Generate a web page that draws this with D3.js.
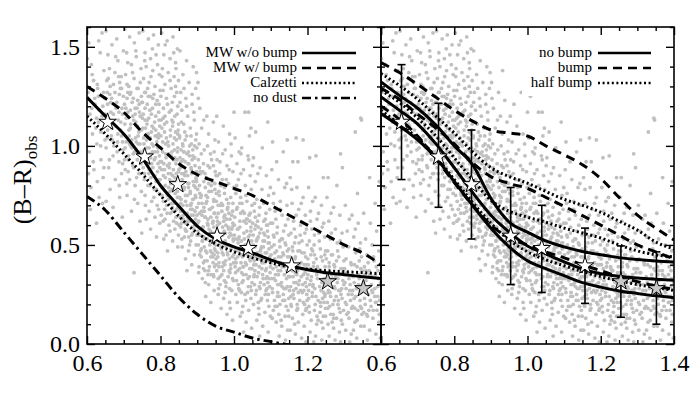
<!DOCTYPE html>
<html><head><meta charset="utf-8">
<script src="https://cdn.jsdelivr.net/npm/d3@7"></script>
<style>body{margin:0;background:#fff}svg{display:block}
svg text{font-family:"Liberation Serif","Times New Roman","DejaVu Serif",serif !important;}</style>
</head><body><svg id="c" width="700" height="400"></svg>
<script>
// ---------- data ----------
const cloud = [
[0.605,1.52],[0.612,1.41],[0.618,1.33],[0.603,1.27],[0.622,1.21],[0.608,1.16],[0.631,1.12],[0.615,1.06],[0.627,1.01],[0.606,0.97],[0.638,0.93],[0.619,0.88],[0.644,0.84],[0.611,0.79],[0.633,0.74],[0.609,0.68],[0.626,0.61],[0.641,1.57],[0.636,1.47],[0.646,1.38],[0.629,1.29],[0.648,1.24],[0.613,1.19],[0.641,1.15],[0.624,1.09],[0.649,1.03],[0.601,1.44],[0.637,1.00],[0.617,0.92],[0.646,0.89],[0.628,0.82],[0.604,0.86],[0.642,0.71],[0.614,1.36],[0.632,1.53],
[0.652,1.58],[0.668,1.51],[0.657,1.46],[0.684,1.43],[0.661,1.39],[0.693,1.35],[0.672,1.31],[0.655,1.27],[0.688,1.26],[0.664,1.22],[0.679,1.19],[0.697,1.16],[0.658,1.14],[0.674,1.11],[0.691,1.08],[0.666,1.05],[0.683,1.02],[0.652,0.99],[0.698,0.98],[0.671,0.95],[0.687,0.92],[0.659,0.89],[0.694,0.86],[0.677,0.83],[0.663,0.78],[0.689,0.74],[0.671,0.69],[0.696,0.64],[0.681,1.54],[0.699,1.48],[0.654,1.33],[0.676,1.37],[0.691,1.29],[0.667,1.24],[0.685,1.13],[0.656,1.08],[0.694,1.05],[0.673,1.00],[0.661,0.93],[0.688,0.80],[0.678,1.45],[0.665,1.17],[0.682,0.97],[0.697,0.91],[0.652,0.72],
[0.703,1.59],[0.716,1.55],[0.729,1.52],[0.742,1.57],[0.708,1.47],[0.734,1.45],[0.721,1.41],[0.747,1.39],[0.705,1.36],[0.728,1.34],[0.714,1.30],[0.739,1.29],[0.748,1.25],[0.709,1.24],[0.723,1.22],[0.736,1.19],[0.711,1.17],[0.745,1.15],[0.727,1.13],[0.703,1.11],[0.718,1.09],[0.741,1.07],[0.732,1.04],[0.707,1.02],[0.722,0.99],[0.746,0.97],[0.713,0.95],[0.737,0.93],[0.725,0.90],[0.704,0.88],[0.744,0.86],[0.716,0.83],[0.731,0.80],[0.748,0.77],[0.709,0.75],[0.738,0.71],[0.721,0.67],[0.744,0.62],[0.728,0.36],[0.733,1.48],[0.719,1.27],[0.742,1.21],[0.706,1.19],[0.731,1.16],[0.715,1.05],[0.739,1.01],[0.726,0.96],[0.702,0.93],[0.747,0.91],[0.712,0.87],[0.735,0.84],[0.724,1.37],[0.745,1.32],[0.711,1.42],[0.737,1.10],[0.719,1.00],[0.708,0.81],[0.729,0.73],[0.749,0.56],[0.717,1.26],
[0.752,1.58],[0.767,1.54],[0.781,1.56],[0.794,1.51],[0.758,1.47],[0.773,1.44],[0.788,1.46],[0.761,1.40],[0.779,1.38],[0.797,1.36],[0.754,1.34],[0.769,1.32],[0.785,1.30],[0.799,1.28],[0.757,1.27],[0.772,1.25],[0.791,1.23],[0.764,1.21],[0.778,1.19],[0.795,1.17],[0.753,1.16],[0.768,1.14],[0.784,1.12],[0.798,1.10],[0.759,1.09],[0.775,1.07],[0.789,1.05],[0.762,1.03],[0.777,1.01],[0.793,0.99],[0.755,0.98],[0.771,0.96],[0.786,0.94],[0.799,0.92],[0.763,0.91],[0.779,0.89],[0.792,0.87],[0.756,0.86],[0.774,0.84],[0.788,0.82],[0.766,0.80],[0.783,0.78],[0.797,0.76],[0.758,0.75],[0.776,0.72],[0.791,0.70],[0.769,0.67],[0.785,0.64],[0.798,0.61],[0.773,0.58],[0.761,0.63],[0.789,0.54],[0.765,1.29],[0.782,1.26],[0.751,1.22],[0.796,1.21],[0.771,1.18],[0.758,1.13],[0.787,1.15],[0.766,1.06],[0.794,1.04],[0.781,1.00],[0.754,1.04],[0.769,0.99],[0.785,0.97],[0.761,0.94],[0.797,0.95],[0.776,0.91],[0.753,0.89],[0.791,0.83],[0.768,0.86],[0.782,0.74],[0.759,0.70],[0.795,0.68],[0.774,1.35],[0.757,1.43],[0.792,1.41],[0.778,1.49],[0.763,1.11],[0.787,1.08],
[0.803,1.57],[0.818,1.53],[0.834,1.55],[0.846,1.49],[0.809,1.46],[0.826,1.44],[0.841,1.42],[0.805,1.39],[0.821,1.37],[0.837,1.35],[0.849,1.33],[0.812,1.31],[0.829,1.29],[0.844,1.27],[0.801,1.25],[0.816,1.24],[0.832,1.22],[0.847,1.20],[0.808,1.19],[0.824,1.17],[0.839,1.15],[0.802,1.13],[0.817,1.12],[0.833,1.10],[0.848,1.08],[0.811,1.07],[0.827,1.05],[0.843,1.03],[0.806,1.02],[0.822,1.00],[0.838,0.98],[0.814,0.96],[0.829,0.95],[0.845,0.93],[0.803,0.92],[0.819,0.90],[0.835,0.88],[0.849,0.87],[0.808,0.85],[0.825,0.83],[0.841,0.82],[0.813,0.80],[0.831,0.78],[0.846,0.77],[0.804,0.75],[0.821,0.73],[0.836,0.71],[0.848,0.69],[0.811,0.68],[0.827,0.66],[0.842,0.64],[0.807,0.62],[0.823,0.60],[0.839,0.58],[0.815,0.55],[0.833,0.52],[0.847,0.49],[0.819,0.47],[0.836,1.47],[0.813,1.51],[0.842,1.39],[0.826,1.33],[0.807,1.28],[0.838,1.25],[0.819,1.21],[0.845,1.16],[0.831,1.13],[0.804,1.09],[0.849,1.11],[0.816,1.04],[0.834,1.01],[0.801,0.99],[0.846,0.97],[0.824,0.91],[0.811,0.88],[0.843,0.86],[0.828,0.81],[0.806,0.79],[0.848,0.74],[0.817,0.70],[0.834,0.67],[0.802,0.65],[0.844,0.61],[0.826,0.57],[0.809,0.53],[0.839,0.94],[0.821,0.86],[0.847,1.06],[0.812,1.15],[0.829,1.18],[0.804,1.35],[0.841,1.30],[0.818,0.76],[0.833,0.85],[0.849,0.55],
[0.853,1.48],[0.871,1.43],[0.889,1.40],[0.861,1.36],[0.878,1.32],[0.896,1.29],[0.855,1.27],[0.869,1.24],[0.886,1.21],[0.858,1.18],[0.874,1.15],[0.892,1.13],[0.863,1.11],[0.881,1.09],[0.898,1.06],[0.852,1.05],[0.867,1.03],[0.884,1.01],[0.899,0.99],[0.856,0.98],[0.872,0.96],[0.888,0.95],[0.861,0.93],[0.877,0.91],[0.894,0.90],[0.854,0.89],[0.869,0.87],[0.885,0.86],[0.897,0.84],[0.859,0.83],[0.875,0.81],[0.891,0.80],[0.864,0.78],[0.881,0.77],[0.895,0.75],[0.852,0.74],[0.868,0.72],[0.884,0.71],[0.899,0.69],[0.857,0.68],[0.873,0.66],[0.889,0.65],[0.862,0.63],[0.878,0.62],[0.894,0.60],[0.855,0.59],[0.871,0.57],[0.887,0.56],[0.865,0.54],[0.882,0.52],[0.897,0.50],[0.859,0.49],[0.876,0.47],[0.892,0.45],[0.868,0.43],[0.885,0.40],[0.872,0.37],[0.863,0.97],[0.879,1.00],[0.893,0.94],[0.856,0.92],[0.884,0.88],[0.866,0.85],[0.898,0.82],[0.851,0.80],[0.876,0.79],[0.889,0.73],[0.861,0.70],[0.894,0.67],[0.874,0.64],[0.853,0.64],[0.886,0.59],[0.867,0.58],[0.899,0.55],[0.858,0.53],[0.879,0.50],[0.891,1.17],[0.871,1.20],[0.857,1.12],[0.883,1.05],[0.866,1.07],[0.896,1.03],[0.861,1.00],[0.888,0.98],[0.873,0.75],[0.855,0.71],[0.882,0.68],[0.869,0.61],[0.895,0.63],[0.877,0.54],[0.864,1.29],[0.886,1.26],[0.853,1.22],[0.898,1.37],[0.879,0.95],
[0.902,1.32],[0.921,1.27],[0.938,1.23],[0.907,1.19],[0.926,1.15],[0.944,1.12],[0.912,1.09],[0.931,1.06],[0.948,1.03],[0.905,1.01],[0.919,0.98],[0.936,0.96],[0.903,0.93],[0.917,0.91],[0.934,0.89],[0.949,0.87],[0.909,0.86],[0.925,0.84],[0.941,0.82],[0.906,0.80],[0.922,0.79],[0.939,0.77],[0.911,0.75],[0.928,0.74],[0.945,0.72],[0.904,0.71],[0.918,0.69],[0.935,0.68],[0.947,0.66],[0.913,0.65],[0.929,0.63],[0.943,0.62],[0.901,0.61],[0.916,0.59],[0.932,0.58],[0.949,0.56],[0.908,0.55],[0.924,0.53],[0.940,0.52],[0.903,0.50],[0.919,0.49],[0.936,0.47],[0.946,0.45],[0.911,0.44],[0.927,0.42],[0.943,0.41],[0.905,0.39],[0.921,0.37],[0.938,0.35],[0.914,0.33],[0.931,0.30],[0.946,0.27],[0.923,0.24],[0.937,0.21],[0.915,0.87],[0.931,0.81],[0.948,0.78],[0.907,0.76],[0.924,0.71],[0.941,0.69],[0.912,0.67],[0.929,0.60],[0.945,0.59],[0.902,0.57],[0.918,0.54],[0.934,0.55],[0.949,0.50],[0.909,0.47],[0.926,0.46],[0.942,0.44],[0.917,0.41],[0.933,0.39],[0.904,0.36],[0.945,0.34],[0.922,0.31],[0.939,0.93],[0.911,0.96],[0.928,1.00],[0.944,0.90],[0.906,0.89],[0.921,0.64],[0.937,0.64],[0.914,0.52],[0.947,0.48],[0.929,0.35],[0.951,0.40],[0.903,1.24],[0.932,1.38],[0.918,1.13],[0.946,0.97],
[0.953,1.15],[0.971,1.10],[0.988,1.06],[0.958,1.02],[0.976,0.98],[0.993,0.95],[0.962,0.92],[0.981,0.90],[0.997,0.87],[0.955,0.85],[0.968,0.83],[0.985,0.81],[0.999,0.79],[0.959,0.77],[0.974,0.76],[0.991,0.74],[0.952,0.72],[0.966,0.71],[0.983,0.69],[0.996,0.67],[0.957,0.66],[0.973,0.64],[0.989,0.63],[0.961,0.61],[0.978,0.60],[0.994,0.58],[0.954,0.57],[0.969,0.55],[0.986,0.54],[0.998,0.52],[0.963,0.51],[0.979,0.49],[0.992,0.48],[0.956,0.46],[0.971,0.45],[0.987,0.43],[0.959,0.41],[0.975,0.40],[0.991,0.38],[0.953,0.37],[0.967,0.35],[0.984,0.34],[0.998,0.32],[0.962,0.30],[0.978,0.29],[0.994,0.27],[0.957,0.25],[0.972,0.23],[0.988,0.21],[0.965,0.18],[0.981,0.15],[0.996,0.12],[0.969,0.70],[0.986,0.66],[0.955,0.62],[0.977,0.56],[0.993,0.55],[0.960,0.53],[0.982,0.46],[0.951,0.43],[0.968,0.39],[0.989,0.36],[0.974,0.32],[0.958,0.28],[0.995,0.44],[0.964,0.80],[0.980,0.73],[0.952,0.76],[0.997,0.61],[0.973,0.50],[0.954,0.93],[0.987,0.88],[0.969,0.96],[0.992,1.01],[0.979,0.83],[0.961,0.86],[0.985,0.58],[0.966,0.48],[0.999,0.41],[0.976,0.26],[0.990,0.18],[0.963,1.21],[0.983,1.27],[0.957,0.33],[0.972,0.62],
[1.003,1.04],[1.021,0.99],[1.038,0.95],[1.008,0.91],[1.026,0.88],[1.044,0.85],[1.012,0.83],[1.031,0.80],[1.047,0.78],[1.005,0.76],[1.018,0.74],[1.035,0.72],[1.049,0.70],[1.009,0.69],[1.024,0.67],[1.041,0.65],[1.002,0.64],[1.016,0.62],[1.033,0.61],[1.046,0.59],[1.011,0.58],[1.027,0.56],[1.043,0.55],[1.006,0.53],[1.020,0.52],[1.037,0.50],[1.048,0.49],[1.013,0.47],[1.029,0.46],[1.045,0.44],[1.004,0.43],[1.019,0.41],[1.034,0.40],[1.049,0.38],[1.010,0.37],[1.025,0.35],[1.042,0.34],[1.007,0.32],[1.022,0.31],[1.039,0.29],[1.015,0.27],[1.030,0.25],[1.046,0.23],[1.009,0.21],[1.024,0.19],[1.040,0.17],[1.017,0.14],[1.033,0.11],[1.048,0.08],[1.026,0.06],[1.036,0.63],[1.001,0.60],[1.014,0.54],[1.028,0.48],[1.044,0.42],[1.003,0.39],[1.021,0.36],[1.038,0.33],[1.012,0.30],[1.047,0.27],[1.032,0.22],[1.005,0.25],[1.023,0.44],[1.041,0.52],[1.016,0.71],[1.032,0.75],[1.007,0.80],[1.043,0.62],[1.028,0.66],[1.019,0.86],[1.035,0.57],[1.048,0.46],[1.011,0.51],[1.026,0.39],[1.040,0.93],[1.014,0.97],[1.046,1.09],[1.030,1.17],[1.008,1.25],[1.022,0.16],
[1.053,0.94],[1.071,0.89],[1.088,0.85],[1.058,0.82],[1.076,0.78],[1.094,0.75],[1.062,0.73],[1.081,0.71],[1.097,0.68],[1.055,0.67],[1.068,0.65],[1.085,0.63],[1.099,0.61],[1.059,0.60],[1.074,0.58],[1.091,0.57],[1.052,0.55],[1.066,0.54],[1.083,0.52],[1.096,0.51],[1.057,0.49],[1.073,0.48],[1.089,0.46],[1.061,0.45],[1.078,0.43],[1.094,0.42],[1.054,0.40],[1.069,0.39],[1.086,0.37],[1.098,0.36],[1.063,0.34],[1.079,0.33],[1.092,0.31],[1.056,0.30],[1.071,0.28],[1.087,0.27],[1.059,0.25],[1.075,0.23],[1.091,0.22],[1.053,0.20],[1.067,0.18],[1.084,0.16],[1.099,0.14],[1.062,0.12],[1.078,0.09],[1.093,0.06],[1.070,0.04],[1.064,0.62],[1.081,0.56],[1.095,0.48],[1.058,0.44],[1.076,0.38],[1.090,0.34],[1.055,0.35],[1.072,0.31],[1.085,0.25],[1.066,0.21],[1.097,0.29],[1.080,0.49],[1.061,0.52],[1.093,0.54],[1.070,0.69],[1.087,0.66],[1.056,0.71],[1.099,0.79],[1.065,0.86],[1.082,0.41],[1.068,0.15],[1.095,0.19],[1.074,0.45],[1.057,0.58],[1.089,0.60],[1.077,0.99],[1.059,1.07],[1.092,1.12],
[1.103,0.88],[1.121,0.83],[1.138,0.79],[1.108,0.76],[1.126,0.72],[1.144,0.70],[1.112,0.67],[1.131,0.65],[1.147,0.63],[1.105,0.61],[1.118,0.59],[1.135,0.57],[1.149,0.55],[1.109,0.54],[1.124,0.52],[1.141,0.50],[1.102,0.49],[1.116,0.47],[1.133,0.46],[1.146,0.44],[1.111,0.43],[1.127,0.41],[1.143,0.40],[1.106,0.38],[1.120,0.37],[1.137,0.35],[1.148,0.34],[1.113,0.32],[1.129,0.31],[1.145,0.29],[1.104,0.28],[1.119,0.26],[1.134,0.25],[1.149,0.23],[1.110,0.22],[1.125,0.20],[1.142,0.19],[1.107,0.17],[1.122,0.15],[1.139,0.14],[1.115,0.11],[1.130,0.09],[1.146,0.07],[1.123,0.04],[1.140,0.02],[1.117,0.56],[1.132,0.53],[1.101,0.45],[1.128,0.44],[1.144,0.37],[1.109,0.33],[1.136,0.28],[1.118,0.24],[1.147,0.17],[1.104,0.13],[1.131,0.39],[1.114,0.63],[1.140,0.60],[1.126,0.68],[1.107,0.71],[1.149,0.48],[1.121,0.35],[1.138,0.22],[1.112,0.19],[1.128,0.12],[1.143,0.81],[1.116,0.92],[1.134,0.97],[1.105,1.02],[1.125,0.49],
[1.153,0.84],[1.171,0.79],[1.188,0.74],[1.158,0.71],[1.176,0.68],[1.194,0.65],[1.162,0.62],[1.181,0.60],[1.197,0.58],[1.155,0.56],[1.168,0.54],[1.185,0.52],[1.199,0.50],[1.159,0.49],[1.174,0.47],[1.191,0.46],[1.152,0.44],[1.166,0.43],[1.183,0.41],[1.196,0.40],[1.157,0.38],[1.173,0.37],[1.189,0.35],[1.161,0.34],[1.178,0.32],[1.194,0.31],[1.154,0.29],[1.169,0.28],[1.186,0.26],[1.198,0.25],[1.163,0.23],[1.179,0.22],[1.192,0.20],[1.156,0.19],[1.171,0.17],[1.187,0.15],[1.159,0.13],[1.175,0.11],[1.191,0.09],[1.153,0.07],[1.167,0.05],[1.184,0.03],[1.196,0.01],[1.164,0.58],[1.180,0.55],[1.195,0.44],[1.158,0.41],[1.176,0.30],[1.190,0.27],[1.155,0.24],[1.172,0.20],[1.185,0.38],[1.167,0.36],[1.199,0.33],[1.160,0.47],[1.177,0.51],[1.193,0.56],[1.169,0.65],[1.183,0.71],[1.157,0.78],[1.197,0.18],[1.165,0.10],[1.174,0.92],[1.188,1.03],[1.162,0.27],
[1.203,0.79],[1.221,0.74],[1.238,0.70],[1.208,0.67],[1.226,0.63],[1.244,0.61],[1.212,0.58],[1.231,0.56],[1.247,0.54],[1.205,0.52],[1.218,0.50],[1.235,0.48],[1.249,0.47],[1.209,0.45],[1.224,0.43],[1.241,0.42],[1.202,0.40],[1.216,0.39],[1.233,0.37],[1.246,0.36],[1.211,0.34],[1.227,0.33],[1.243,0.31],[1.206,0.30],[1.220,0.28],[1.237,0.27],[1.248,0.25],[1.213,0.24],[1.229,0.22],[1.245,0.21],[1.204,0.19],[1.219,0.17],[1.234,0.16],[1.249,0.14],[1.210,0.12],[1.225,0.10],[1.242,0.08],[1.207,0.06],[1.222,0.04],[1.239,0.02],[1.217,0.01],[1.232,0.52],[1.214,0.47],[1.248,0.39],[1.201,0.35],[1.228,0.38],[1.244,0.26],[1.215,0.29],[1.236,0.19],[1.203,0.23],[1.226,0.14],[1.247,0.45],[1.219,0.55],[1.240,0.59],[1.208,0.62],[1.230,0.66],[1.214,0.72],[1.243,0.84],[1.223,0.95],[1.238,0.11],
[1.253,0.74],[1.271,0.69],[1.288,0.65],[1.258,0.62],[1.276,0.58],[1.294,0.56],[1.262,0.53],[1.281,0.51],[1.297,0.49],[1.255,0.47],[1.268,0.45],[1.285,0.44],[1.299,0.42],[1.259,0.41],[1.274,0.39],[1.291,0.38],[1.252,0.36],[1.266,0.35],[1.283,0.33],[1.296,0.32],[1.257,0.30],[1.273,0.29],[1.289,0.27],[1.261,0.26],[1.278,0.24],[1.294,0.23],[1.254,0.21],[1.269,0.20],[1.286,0.18],[1.298,0.17],[1.263,0.15],[1.279,0.13],[1.292,0.12],[1.256,0.10],[1.271,0.08],[1.287,0.06],[1.259,0.04],[1.275,0.02],[1.290,0.01],[1.265,0.56],[1.282,0.47],[1.251,0.43],[1.277,0.34],[1.293,0.28],[1.260,0.19],[1.284,0.22],[1.267,0.11],[1.296,0.36],[1.272,0.40],[1.257,0.26],[1.289,0.52],[1.264,0.66],[1.280,0.80],[1.295,0.89],[1.270,0.15],
[1.303,0.70],[1.321,0.65],[1.338,0.61],[1.308,0.57],[1.326,0.54],[1.344,0.51],[1.312,0.49],[1.331,0.46],[1.347,0.44],[1.305,0.43],[1.318,0.41],[1.335,0.39],[1.349,0.37],[1.309,0.36],[1.324,0.34],[1.341,0.33],[1.302,0.31],[1.316,0.30],[1.333,0.28],[1.346,0.26],[1.311,0.25],[1.327,0.23],[1.343,0.22],[1.306,0.20],[1.320,0.18],[1.337,0.17],[1.348,0.15],[1.313,0.13],[1.329,0.11],[1.345,0.09],[1.304,0.07],[1.319,0.05],[1.334,0.03],[1.315,0.01],[1.342,0.48],[1.328,0.40],[1.301,0.38],[1.339,0.30],[1.323,0.27],[1.307,0.15],[1.344,0.19],[1.330,0.58],[1.314,0.63],[1.336,0.76],[1.325,0.07],
[1.353,0.66],[1.371,0.61],[1.388,0.57],[1.358,0.53],[1.376,0.50],[1.394,0.47],[1.362,0.45],[1.381,0.42],[1.397,0.40],[1.355,0.39],[1.368,0.37],[1.385,0.35],[1.399,0.33],[1.359,0.32],[1.374,0.30],[1.391,0.29],[1.352,0.27],[1.366,0.25],[1.383,0.24],[1.396,0.22],[1.357,0.20],[1.373,0.19],[1.389,0.17],[1.361,0.15],[1.378,0.13],[1.394,0.11],[1.354,0.09],[1.369,0.07],[1.386,0.05],[1.398,0.03],[1.363,0.02],[1.380,0.44],[1.365,0.41],[1.392,0.37],[1.356,0.35],[1.375,0.27],[1.387,0.21],[1.367,0.17],[1.384,0.71],[1.395,0.82],
[1.347,1.13],[1.042,1.05],[1.169,1.04],[1.019,0.96],[1.051,0.90],[1.160,0.92],[1.206,0.94],[1.369,0.84],[1.256,0.84],[1.000,1.17],[1.040,1.17],[1.345,1.14],[1.145,1.03],[1.330,1.07],[1.290,0.96]
];
// denser core of the same cloud
const cloudCore = [
[0.621,1.24],[0.634,1.18],[0.645,1.27],[0.656,1.21],[0.663,1.30],[0.672,1.16],[0.681,1.22],[0.689,1.32],[0.695,1.19],[0.626,1.14],[0.638,1.07],[0.651,1.12],[0.667,1.09],[0.676,1.27],[0.684,1.06],[0.692,1.12],[0.699,1.25],[0.643,1.20],[0.658,1.34],[0.669,1.03],[0.687,1.17],[0.697,1.02],[0.631,1.25],[0.649,1.16],[0.662,1.26],[0.678,1.10],[0.694,1.29],[0.628,1.31],[0.655,1.04],[0.686,1.35],
[0.702,1.21],[0.707,1.14],[0.711,1.27],[0.714,1.08],[0.718,1.18],[0.722,1.03],[0.726,1.24],[0.729,0.97],[0.733,1.12],[0.736,1.29],[0.739,1.05],[0.743,1.17],[0.746,0.95],[0.749,1.22],[0.752,1.09],[0.755,1.01],[0.758,1.19],[0.761,0.92],[0.764,1.13],[0.767,1.25],[0.769,0.88],[0.772,1.04],[0.775,1.16],[0.778,0.97],[0.781,1.09],[0.784,0.85],[0.787,1.21],[0.790,1.02],[0.793,0.91],[0.796,1.13],[0.799,0.83],[0.704,0.99],[0.712,0.93],[0.719,1.11],[0.727,0.89],[0.734,1.02],[0.741,0.86],[0.748,1.08],[0.756,0.83],[0.763,0.99],[0.771,0.80],[0.777,1.10],[0.783,0.93],[0.789,0.78],[0.795,1.06],[0.709,1.31],[0.724,1.15],[0.738,1.23],[0.751,1.14],[0.766,1.06],[0.779,1.24],[0.792,0.97],[0.716,1.01],[0.731,1.19],[0.744,1.01],[0.759,1.27],[0.773,0.94],[0.786,1.05],[0.798,0.89],[0.768,0.91],
[0.801,1.05],[0.803,0.88],[0.806,0.97],[0.808,0.72],[0.811,1.11],[0.813,0.84],[0.815,0.94],[0.818,0.66],[0.820,1.02],[0.822,0.79],[0.824,0.89],[0.827,1.08],[0.829,0.71],[0.831,0.97],[0.833,0.82],[0.836,0.62],[0.838,1.04],[0.840,0.76],[0.842,0.91],[0.844,0.68],[0.847,0.99],[0.849,0.81],[0.851,0.60],[0.853,0.94],[0.856,0.73],[0.858,0.86],[0.860,1.01],[0.862,0.65],[0.865,0.79],[0.867,0.92],[0.869,0.57],[0.872,0.70],[0.874,0.85],[0.876,0.97],[0.878,0.63],[0.881,0.76],[0.883,0.89],[0.885,0.55],[0.887,0.68],[0.889,0.82],[0.892,0.94],[0.894,0.61],[0.896,0.74],[0.898,0.87],[0.804,0.79],[0.809,0.91],[0.814,1.01],[0.819,0.75],[0.823,0.96],[0.828,0.86],[0.832,0.69],[0.837,0.93],[0.841,1.07],[0.846,0.74],[0.850,0.88],[0.855,0.67],[0.859,0.79],[0.864,0.97],[0.868,0.75],[0.873,0.62],[0.877,0.81],[0.882,0.70],[0.886,0.93],[0.891,0.58],[0.895,0.79],[0.899,0.65],[0.812,0.63],[0.826,0.77],[0.839,0.84],[0.852,1.04],[0.863,0.86],[0.875,0.91],[0.888,0.73],[0.897,0.83],[0.807,1.14],[0.834,1.12],[0.857,0.61],[0.871,1.05],[0.884,0.65],[0.893,1.00],
[0.901,0.78],[0.903,0.55],[0.906,0.66],[0.908,0.87],[0.911,0.48],[0.913,0.71],[0.915,0.59],[0.918,0.82],[0.920,0.42],[0.922,0.64],[0.924,0.75],[0.927,0.53],[0.929,0.90],[0.931,0.37],[0.933,0.68],[0.936,0.57],[0.938,0.80],[0.940,0.46],[0.942,0.61],[0.945,0.73],[0.947,0.39],[0.949,0.52],[0.951,0.85],[0.953,0.64],[0.956,0.44],[0.958,0.56],[0.960,0.75],[0.962,0.34],[0.965,0.49],[0.967,0.67],[0.969,0.59],[0.971,0.41],[0.974,0.79],[0.976,0.52],[0.978,0.31],[0.980,0.63],[0.983,0.45],[0.985,0.71],[0.987,0.37],[0.989,0.56],[0.992,0.48],[0.994,0.65],[0.996,0.33],[0.998,0.53],[0.904,0.62],[0.909,0.74],[0.914,0.52],[0.919,0.67],[0.923,0.47],[0.928,0.61],[0.932,0.77],[0.937,0.44],[0.941,0.56],[0.946,0.66],[0.950,0.47],[0.955,0.60],[0.959,0.39],[0.964,0.70],[0.968,0.46],[0.973,0.57],[0.977,0.42],[0.982,0.68],[0.986,0.50],[0.991,0.40],[0.995,0.59],[0.999,0.45],[0.907,0.45],[0.921,0.86],[0.934,0.50],[0.948,0.81],[0.961,0.54],[0.975,0.65],[0.988,0.28],[0.917,0.38],[0.944,0.35],[0.957,0.70],[0.972,0.37],[0.984,0.59],[0.997,0.71],[0.926,0.72],
[1.001,0.55],[1.004,0.36],[1.007,0.68],[1.010,0.44],[1.013,0.28],[1.016,0.59],[1.019,0.49],[1.022,0.71],[1.025,0.32],[1.028,0.53],[1.031,0.41],[1.034,0.63],[1.037,0.26],[1.040,0.47],[1.043,0.38],[1.046,0.57],[1.049,0.31],[1.052,0.50],[1.055,0.42],[1.058,0.64],[1.061,0.27],[1.064,0.46],[1.067,0.36],[1.070,0.56],[1.073,0.22],[1.076,0.41],[1.079,0.52],[1.082,0.30],[1.085,0.46],[1.088,0.38],[1.091,0.60],[1.094,0.25],[1.097,0.44],[1.003,0.47],[1.009,0.58],[1.015,0.38],[1.021,0.45],[1.027,0.62],[1.033,0.35],[1.039,0.54],[1.045,0.29],[1.051,0.61],[1.057,0.37],[1.063,0.53],[1.069,0.29],[1.075,0.49],[1.081,0.62],[1.087,0.33],[1.093,0.51],[1.099,0.39],[1.006,0.41],[1.018,0.66],[1.030,0.50],[1.042,0.43],[1.054,0.34],[1.066,0.59],[1.078,0.35],[1.090,0.28],[1.012,0.53],[1.024,0.39],[1.036,0.45],[1.048,0.52],[1.060,0.40],[1.072,0.47],[1.084,0.55],[1.096,0.33],[1.020,0.26],[1.044,0.66],[1.068,0.43],[1.086,0.42],
[1.101,0.41],[1.105,0.26],[1.109,0.50],[1.113,0.35],[1.117,0.19],[1.121,0.44],[1.125,0.30],[1.129,0.53],[1.133,0.22],[1.137,0.39],[1.141,0.28],[1.145,0.47],[1.149,0.14],[1.153,0.34],[1.157,0.42],[1.161,0.25],[1.165,0.51],[1.169,0.31],[1.173,0.18],[1.177,0.40],[1.181,0.27],[1.185,0.46],[1.189,0.21],[1.193,0.36],[1.197,0.29],[1.201,0.43],[1.205,0.16],[1.209,0.32],[1.213,0.26],[1.217,0.41],[1.221,0.20],[1.225,0.35],[1.229,0.12],[1.233,0.29],[1.237,0.44],[1.241,0.23],[1.245,0.33],[1.249,0.18],[1.103,0.33],[1.111,0.46],[1.119,0.30],[1.127,0.37],[1.135,0.45],[1.143,0.33],[1.151,0.27],[1.159,0.37],[1.167,0.44],[1.175,0.26],[1.183,0.34],[1.191,0.40],[1.199,0.22],[1.207,0.38],[1.215,0.30],[1.223,0.24],[1.231,0.37],[1.239,0.31],[1.247,0.24],[1.107,0.55],[1.123,0.24],[1.139,0.51],[1.155,0.20],[1.171,0.35],[1.187,0.30],[1.203,0.27],[1.219,0.45],[1.235,0.21],[1.115,0.39],[1.131,0.29],[1.147,0.40],[1.163,0.31],[1.179,0.47],[1.195,0.17],[1.211,0.48],[1.227,0.39],[1.243,0.14],
[1.251,0.31],[1.255,0.18],[1.259,0.39],[1.263,0.24],[1.267,0.33],[1.271,0.13],[1.275,0.28],[1.279,0.42],[1.283,0.20],[1.287,0.35],[1.291,0.25],[1.295,0.10],[1.299,0.30],[1.303,0.21],[1.307,0.36],[1.311,0.16],[1.315,0.27],[1.319,0.40],[1.323,0.19],[1.327,0.31],[1.331,0.24],[1.335,0.12],[1.339,0.35],[1.343,0.27],[1.347,0.18],[1.351,0.30],[1.355,0.23],[1.359,0.37],[1.363,0.14],[1.367,0.29],[1.371,0.22],[1.375,0.34],[1.379,0.17],[1.383,0.28],[1.387,0.39],[1.391,0.24],[1.395,0.15],[1.399,0.31],[1.257,0.27],[1.265,0.45],[1.273,0.22],[1.281,0.31],[1.289,0.16],[1.297,0.38],[1.305,0.28],[1.313,0.33],[1.321,0.25],[1.329,0.18],[1.337,0.29],[1.345,0.38],[1.353,0.16],[1.361,0.26],[1.369,0.35],[1.377,0.26],[1.385,0.21],[1.393,0.33],[1.261,0.36],[1.285,0.27],[1.317,0.22],[1.341,0.42]
];

const starX = [0.656,0.757,0.847,0.954,1.039,1.157,1.255,1.352];
const starY = [1.12,0.945,0.805,0.545,0.483,0.395,0.315,0.28];
const errLo = [0.83,0.69,0.53,0.30,0.26,0.205,0.135,0.10];
const errHi = [1.41,1.215,1.08,0.79,0.70,0.585,0.495,0.465];

const lineX = [0.60,0.65,0.70,0.75,0.80,0.85,0.90,0.95,1.00,1.05,1.10,1.15,1.20,1.25,1.30,1.35,1.40];
// left panel
const mwNoBump = [1.245,1.15,1.06,0.94,0.80,0.695,0.595,0.53,0.49,0.46,0.425,0.395,0.375,0.36,0.35,0.34,0.33];
const mwBump   = [1.30,1.24,1.17,1.07,0.99,0.91,0.855,0.82,0.785,0.75,0.70,0.65,0.60,0.55,0.50,0.46,0.40];
const calzetti = [1.15,1.06,0.96,0.86,0.75,0.645,0.56,0.505,0.465,0.435,0.41,0.39,0.378,0.37,0.365,0.36,0.355];
const noDust   = [0.745,0.675,0.565,0.455,0.345,0.235,0.15,0.09,0.06,0.03,0.012,-0.005];
// right panel
const noBumpA = [1.323,1.255,1.19,1.105,1.0,0.905,0.735,0.615,0.565,0.52,0.49,0.467,0.45,0.436,0.426,0.419,0.414];
const noBumpB = [1.247,1.18,1.11,1.01,0.89,0.765,0.65,0.565,0.495,0.455,0.415,0.378,0.355,0.342,0.333,0.327,0.322];
const noBumpC = [1.163,1.10,1.03,0.94,0.82,0.70,0.585,0.49,0.42,0.38,0.345,0.31,0.287,0.268,0.255,0.243,0.234];
const bumpA   = [1.42,1.37,1.31,1.245,1.18,1.125,1.08,1.065,1.05,1.0,0.955,0.905,0.835,0.74,0.65,0.585,0.525];
const bumpB   = [1.29,1.235,1.16,1.09,1.01,0.915,0.845,0.81,0.785,0.74,0.695,0.648,0.60,0.55,0.50,0.465,0.43];
const bumpC   = [1.20,1.135,1.05,0.935,0.815,0.70,0.60,0.535,0.50,0.465,0.435,0.40,0.37,0.34,0.315,0.293,0.275];
const halfA   = [1.365,1.305,1.235,1.15,1.065,0.97,0.89,0.845,0.812,0.77,0.73,0.70,0.665,0.62,0.575,0.515,0.48];
const halfB   = [1.28,1.22,1.14,1.05,0.94,0.83,0.725,0.67,0.64,0.615,0.585,0.56,0.535,0.50,0.47,0.45,0.44];
const halfC   = [1.18,1.11,1.04,0.945,0.83,0.715,0.61,0.525,0.465,0.425,0.395,0.365,0.34,0.318,0.30,0.285,0.27];

const leftLegend  = ["MW w/o bump","MW w/ bump","Calzetti","no dust"];
const rightLegend = ["no bump","bump","half bump"];
const xMajor = [0.6,0.8,1.0,1.2,1.4];
const yMajor = [0.0,0.5,1.0,1.5];

// ---------- drawing ----------
const DASH = {solid:null, dashed:"9,6", dotted:"2,2.6", dashdot:"9,4,2.5,4"};
const svg = d3.select("#c");
const y = d3.scaleLinear().domain([0,1.6]).range([344,27]);
const zip = (ys) => ys.map((v,i)=>[lineX[i],v]);
const allPoints = cloud.concat(cloudCore);

const panels = [
  {x0:87, x1:381, lines:[[mwBump,"dashed"],[calzetti,"dotted"],[mwNoBump,"solid"],[noDust,"dashdot"]],
   legend:leftLegend, styles:["solid","dashed","dotted","dashdot"], legBox:[203,28,177,81], legTextX:297, legLine:[302,356], errors:false, labelsLeft:true},
  {x0:381, x1:674, lines:[[bumpA,"dashed"],[bumpB,"dashed"],[bumpC,"dashed"],[halfA,"dotted"],[halfB,"dotted"],[halfC,"dotted"],[noBumpA,"solid"],[noBumpB,"solid"],[noBumpC,"solid"]],
   legend:rightLegend, styles:["solid","dashed","dotted"], legBox:[522,28,151,68], legTextX:592, legLine:[598,651], errors:true, labelsLeft:false}
];

panels.forEach((p,pi)=>{
  const x = d3.scaleLinear().domain([0.6,1.4]).range([p.x0,p.x1]);
  const cid = "clip"+pi;
  svg.append("clipPath").attr("id",cid).append("rect")
    .attr("x",p.x0).attr("y",27).attr("width",p.x1-p.x0).attr("height",317);
  const g = svg.append("g").attr("clip-path",`url(#${cid})`);

  g.append("g").selectAll("circle").data(allPoints).join("circle")
    .attr("cx",d=>x(d[0])).attr("cy",d=>y(d[1])).attr("r",1.9).attr("fill","#c0c0c0");

  g.append("rect").attr("x",p.legBox[0]).attr("y",p.legBox[1]).attr("width",p.legBox[2]).attr("height",p.legBox[3]).attr("fill","#fff");

  const line = d3.line().x(d=>x(d[0])).y(d=>y(d[1])).curve(d3.curveMonotoneX);
  p.lines.forEach(([ys,st])=>{
    g.append("path").datum(zip(ys)).attr("d",line).attr("fill","none")
      .attr("stroke","#000").attr("stroke-width",3)
      .attr("stroke-dasharray",DASH[st]);
  });

  if (p.errors) {
    const eg = g.append("g").attr("stroke","#000").attr("stroke-width",1.6);
    starX.forEach((sx,i)=>{
      const cx = x(sx);
      eg.append("line").attr("x1",cx).attr("x2",cx).attr("y1",y(errLo[i])).attr("y2",y(errHi[i]));
      eg.append("line").attr("x1",cx-4).attr("x2",cx+4).attr("y1",y(errLo[i])).attr("y2",y(errLo[i]));
      eg.append("line").attr("x1",cx-4).attr("x2",cx+4).attr("y1",y(errHi[i])).attr("y2",y(errHi[i]));
    });
  }

  const star = d3.symbol(d3.symbolStar, 95);
  g.append("g").selectAll("path").data(starX).join("path")
    .attr("d",star).attr("transform",(d,i)=>`translate(${x(d)},${y(starY[i])})`)
    .attr("fill",(d,i)=> i>=6 ? "#c8c8c8" : "#fff").attr("stroke","#000").attr("stroke-width",1);

  const lg = svg.append("g");
  p.legend.forEach((t,i)=>{
    const by = 57 + i*15;
    lg.append("text").attr("x",p.legTextX).attr("y",by).attr("text-anchor","end")
      .attr("font-size",15).attr("fill","#000").text(t);
    lg.append("line").attr("x1",p.legLine[0]).attr("x2",p.legLine[1]).attr("y1",by-4).attr("y2",by-4)
      .attr("stroke","#000").attr("stroke-width",2.5).attr("stroke-dasharray",DASH[p.styles[i]]);
  });

  const minorX = d3.range(0.6,1.4001,0.05).filter(v=>Math.abs(v*5-Math.round(v*5))>1e-6);
  const minorY = d3.range(0,1.6001,0.1).filter(v=>Math.abs(v*2-Math.round(v*2))>1e-6);
  const fmtX = v => (pi===0 && v>1.35) ? "" : d3.format(".1f")(v);
  const styleAxis = sel => { sel.select(".domain").remove(); sel.selectAll("line").attr("stroke","#000").attr("stroke-width",1.4); sel.attr("font-size",24).selectAll("text").attr("fill","#000"); };

  svg.append("g").attr("transform","translate(0,344)").call(d3.axisBottom(x).tickValues(xMajor).tickSize(-8).tickPadding(10).tickFormat(fmtX)).call(styleAxis);
  svg.append("g").attr("transform","translate(0,344)").call(d3.axisBottom(x).tickValues(minorX).tickSize(-4).tickFormat("")).call(styleAxis);
  svg.append("g").attr("transform","translate(0,27)").call(d3.axisTop(x).tickValues(xMajor).tickSize(-8).tickFormat("")).call(styleAxis);
  svg.append("g").attr("transform","translate(0,27)").call(d3.axisTop(x).tickValues(minorX).tickSize(-4).tickFormat("")).call(styleAxis);
  svg.append("g").attr("transform",`translate(${p.x0},0)`).call(d3.axisLeft(y).tickValues(yMajor).tickSize(-8).tickPadding(7).tickFormat(p.labelsLeft? d3.format(".1f") : "")).call(styleAxis);
  svg.append("g").attr("transform",`translate(${p.x0},0)`).call(d3.axisLeft(y).tickValues(minorY).tickSize(-4).tickFormat("")).call(styleAxis);
  svg.append("g").attr("transform",`translate(${p.x1},0)`).call(d3.axisRight(y).tickValues(yMajor).tickSize(-8).tickFormat("")).call(styleAxis);
  svg.append("g").attr("transform",`translate(${p.x1},0)`).call(d3.axisRight(y).tickValues(minorY).tickSize(-4).tickFormat("")).call(styleAxis);

  svg.append("rect").attr("x",p.x0).attr("y",27).attr("width",p.x1-p.x0).attr("height",317)
    .attr("fill","none").attr("stroke","#000").attr("stroke-width",1.6);
});

const yt = svg.append("text").attr("transform","translate(31,180) rotate(-90)")
  .attr("text-anchor","middle").attr("font-size",26).attr("fill","#000");
yt.append("tspan").text("(B\u2013R)");
yt.append("tspan").attr("font-size",17).attr("dy",6).text("obs");
</script>
</body></html>
